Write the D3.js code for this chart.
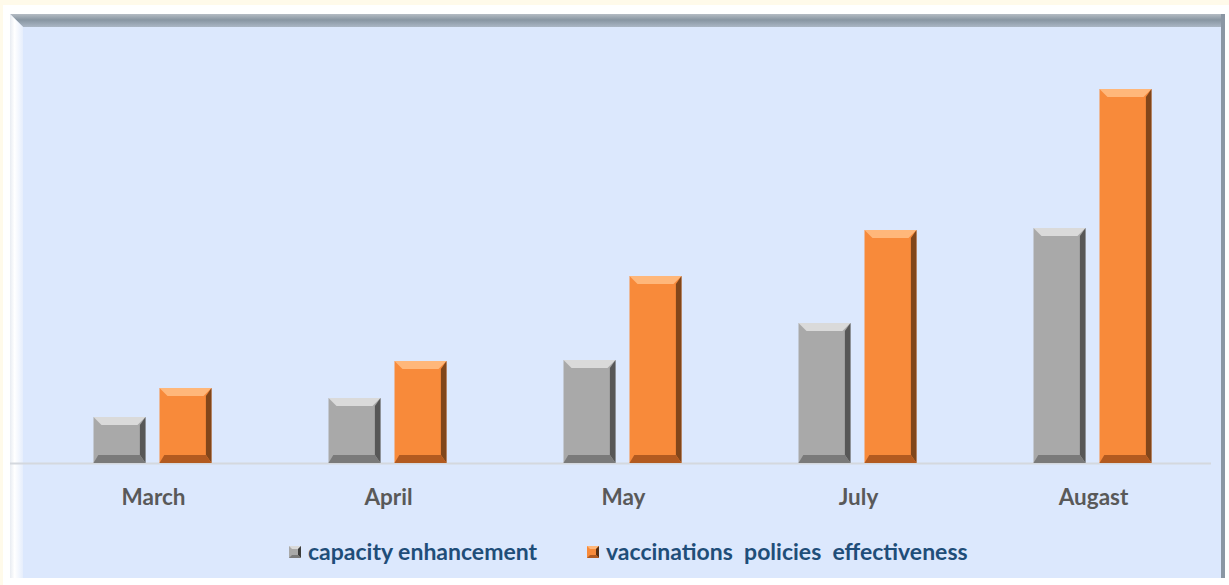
<!DOCTYPE html>
<html>
<head>
<meta charset="utf-8">
<script src="https://cdn.jsdelivr.net/npm/d3@7"></script>
<style>
  body { margin: 0; background: #fffaea; }
  svg { display: block; }
</style>
</head>
<body>
<div id="container"></div>
<script>
/* DATA */
const months = ["March", "April", "May", "July", "Augast"];
const capacity = [46, 65, 103, 140, 235];
const vaccination = [75, 102, 187, 233, 374];
const seriesNames = ["capacity enhancement", "vaccinations  policies  effectiveness"];

/* CONSTANTS */
const width = 1229, height = 585;
const panel = { x: 10, y: 14, w: 1215, h: 564 };
const margin = { left: 36, right: 18, top: 63, baseline: 463 };

const svg = d3.select("#container")
  .append("svg")
  .attr("width", width)
  .attr("height", height);

const defs = svg.append("defs");

// top bevel gradient of the panel
const tg = defs.append("linearGradient").attr("id", "topBevel")
  .attr("x1", 0).attr("y1", 0).attr("x2", 0).attr("y2", 1);
tg.append("stop").attr("offset", "0%").attr("stop-color", "#b4bcc4");
tg.append("stop").attr("offset", "45%").attr("stop-color", "#8896a2");
tg.append("stop").attr("offset", "100%").attr("stop-color", "#aab6c4");

const lg = defs.append("linearGradient").attr("id", "leftBevel")
  .attr("x1", 0).attr("y1", 0).attr("x2", 1).attr("y2", 0);
lg.append("stop").attr("offset", "0%").attr("stop-color", "#e8ecf2");
lg.append("stop").attr("offset", "35%").attr("stop-color", "#ffffff");
lg.append("stop").attr("offset", "100%").attr("stop-color", "#e6eefc");

// frame
svg.append("rect").attr("x", 3).attr("y", 5).attr("width", width - 3).attr("height", height - 5)
  .attr("fill", "#ffffff");
svg.append("rect").attr("x", panel.x).attr("y", panel.y).attr("width", panel.w).attr("height", panel.h)
  .attr("fill", "#dce8fd");
svg.append("path")
  .attr("d", `M${panel.x},${panel.y} L${panel.x + panel.w},${panel.y} L${panel.x + panel.w},${panel.y + 13} L${panel.x + 13},${panel.y + 13} Z`)
  .attr("fill", "url(#topBevel)");
svg.append("path")
  .attr("d", `M${panel.x},${panel.y} L${panel.x + 13},${panel.y + 13} L${panel.x + 13},${panel.y + panel.h} L${panel.x},${panel.y + panel.h} Z`)
  .attr("fill", "url(#leftBevel)");
svg.append("rect").attr("x", panel.x + panel.w - 4).attr("y", panel.y).attr("width", 4).attr("height", panel.h)
  .attr("fill", "#8a96a4");

/* SCALES */
const x0 = d3.scaleBand()
  .domain(months)
  .range([margin.left, width - margin.right])
  .paddingInner(0)
  .paddingOuter(0);

const y = d3.scaleLinear()
  .domain([0, 400])
  .range([margin.baseline, margin.top]);

const colors = [
  { base: "#a9a9a9", light: "#dadada", dark: "#5a5a5a", side: "#3c3c3c", bottom: "#7a7a7a" },
  { base: "#f88a3a", light: "#ffb77a", dark: "#8a4a1a", side: "#5a2f10", bottom: "#b25a20" }
];

const barW = 52, gap = 14;

// baseline
svg.append("line")
  .attr("x1", 10).attr("x2", 1211)
  .attr("y1", margin.baseline + 0.5).attr("y2", margin.baseline + 0.5)
  .attr("stroke", "#d4d8de").attr("stroke-width", 2);

const rows = [];
months.forEach((m, i) => {
  [capacity[i], vaccination[i]].forEach((v, s) => {
    rows.push({ month: m, value: v, s });
  });
});

function bevelBar(g, x, yTop, w, h, c) {
  const b = Math.min(8, h / 2);
  const yB = yTop + h;
  g.append("rect").attr("x", x).attr("y", yTop).attr("width", w).attr("height", h).attr("fill", c.base);
  // top
  g.append("path").attr("d", `M${x},${yTop} L${x + w},${yTop} L${x + w - b},${yTop + b} L${x + b},${yTop + b} Z`)
    .attr("fill", c.light);
  // right
  g.append("path").attr("d", `M${x + w},${yTop} L${x + w - b * 0.7},${yTop + b} L${x + w - b * 0.7},${yB - b} L${x + w},${yB} Z`)
    .attr("fill", c.side).attr("opacity", 0.75);
  // bottom
  g.append("path").attr("d", `M${x},${yB} L${x + b * 0.6},${yB - b} L${x + w - b * 0.7},${yB - b} L${x + w},${yB} Z`)
    .attr("fill", c.bottom);
}

const bars = svg.append("g").attr("class", "bars");
rows.forEach(d => {
  const cx = x0(d.month) + x0.bandwidth() / 2;
  const x = d.s === 0 ? cx - gap / 2 - barW - 1 : cx + gap / 2 - 1;
  const yTop = y(d.value);
  bevelBar(bars.append("g"), x, yTop, barW, margin.baseline - yTop, colors[d.s]);
});

// category labels
svg.append("g")
  .selectAll("text")
  .data(months)
  .join("text")
  .attr("x", d => x0(d) + x0.bandwidth() / 2)
  .attr("y", 505)
  .attr("text-anchor", "middle")
  .attr("font-family", "Lato, 'Open Sans', sans-serif")
  .attr("font-weight", "bold")
  .attr("font-size", 22.5)
  .attr("fill", "#595959")
  .text(d => d);

// legend
const legendX = [289, 587];
const legend = svg.append("g");
seriesNames.forEach((name, i) => {
  const c = colors[i];
  const gx = legendX[i];
  const gg = legend.append("g");
  gg.append("rect").attr("x", gx).attr("y", 546).attr("width", 12).attr("height", 12).attr("fill", c.base);
  gg.append("path").attr("d", `M${gx},546 L${gx + 12},546 L${gx + 9},549 L${gx + 3},549 Z`).attr("fill", c.light);
  gg.append("path").attr("d", `M${gx + 12},546 L${gx + 9},549 L${gx + 9},555 L${gx + 12},558 Z`).attr("fill", c.side);
  gg.append("path").attr("d", `M${gx},558 L${gx + 3},555 L${gx + 9},555 L${gx + 12},558 Z`).attr("fill", c.bottom);
  gg.append("text")
    .attr("x", gx + 19)
    .attr("y", 560)
    .attr("font-family", "Lato, 'Open Sans', sans-serif")
    .attr("font-weight", "bold")
    .attr("font-size", 23)
    .attr("fill", "#1f4e79")
    .attr("xml:space", "preserve")
    .style("white-space", "pre")
    .text(name);
});
</script>
</body>
</html>
